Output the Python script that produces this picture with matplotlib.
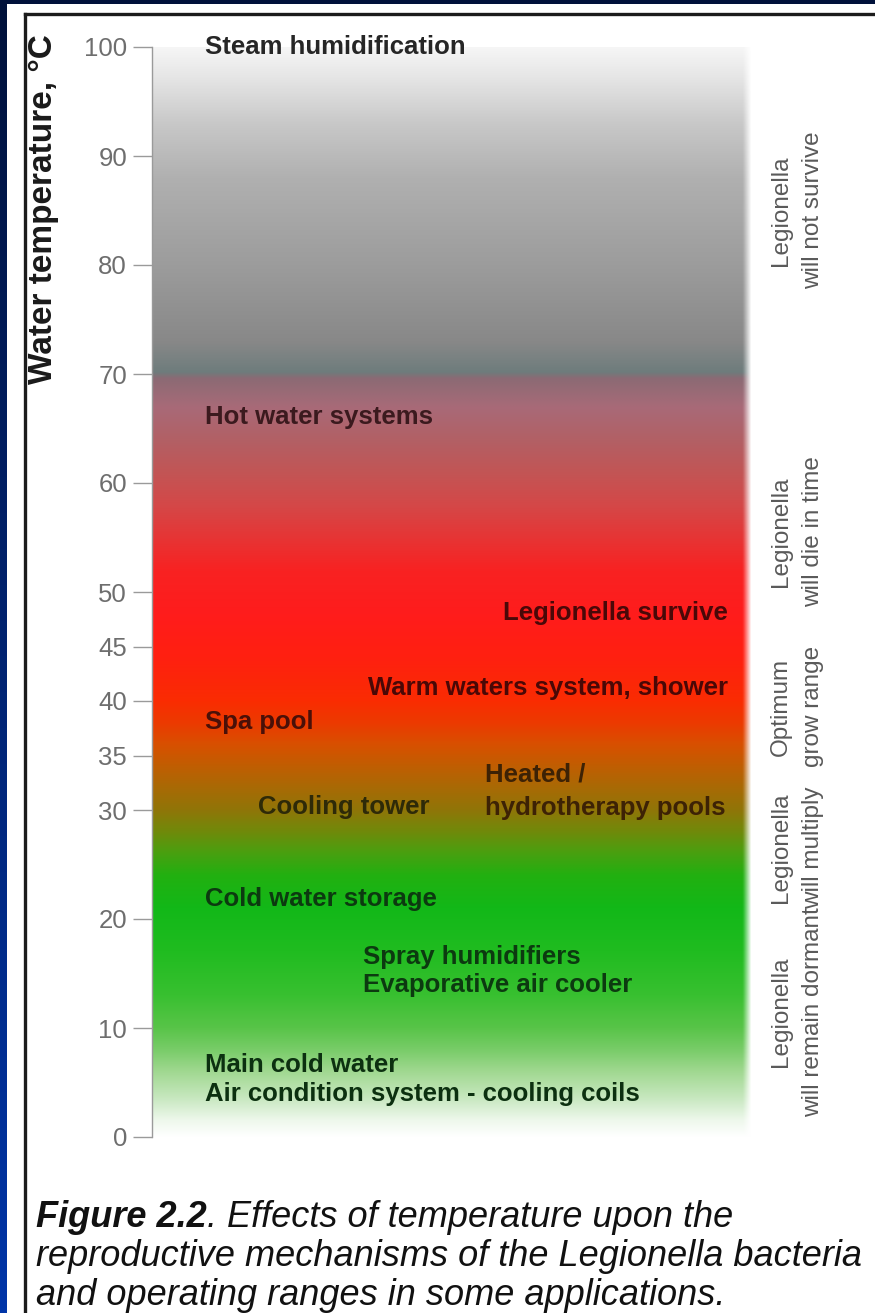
import numpy as np
import matplotlib
matplotlib.use("Agg")
import matplotlib.pyplot as plt
from matplotlib.colors import to_rgb
from matplotlib.patches import Rectangle
from matplotlib.lines import Line2D

# ---------------- data ----------------
temp_ticks = [0, 10, 20, 30, 35, 40, 45, 50, 60, 70, 80, 90, 100]
axis_title = "Water temperature, °C"

applications = ["Steam humidification", "Hot water systems", "Legionella survive",
                "Warm waters system, shower", "Spa pool", "Heated /\nhydrotherapy pools",
                "Cooling tower", "Cold water storage",
                "Spray humidifiers\nEvaporative air cooler",
                "Main cold water\nAir condition system - cooling coils"]
application_temps = [100, 66.1, 48.1, 41.2, 38.1, 31.7, 30.3, 21.8, 15.2, 5.3]

zones = ["Legionella\nwill not survive", "Legionella\nwill die in time",
         "Optimum\ngrow range", "Legionella\nwill multiply",
         "Legionella\nwill remain dormant"]
zone_temps = [85.0, 55.5, 39.5, 26.5, 11.5]

caption_bold = "Figure 2.2"
caption_lines = [". Effects of temperature upon the",
                 "reproductive mechanisms of the Legionella bacteria",
                 "and operating ranges in some applications."]

# colour gradient of the column (temperature -> colour)
grad_temps = [0, 1.5, 3.5, 6, 8, 10, 13, 17, 21, 24, 26, 28, 30, 32, 34, 36, 38,
              40, 44, 48, 52, 55, 58, 61, 64, 67, 69.6, 70.2, 71.5, 73, 80, 88,
              93, 97, 100]
grad_colors = ["#ffffff", "#eef8ec", "#c8e8c0", "#a0d890", "#78cc68", "#58c448",
               "#38c030", "#20bc20", "#12b818", "#22b010", "#48a010", "#708a0a",
               "#907508", "#a86a05", "#c05e02", "#d85000", "#ec3a00", "#fa2c02",
               "#ff2010", "#ff1c1c", "#f82222", "#e63535", "#d44848", "#c25555",
               "#b26065", "#a86a78", "#8c6a74", "#6e7c7c", "#7a8282", "#888888",
               "#9c9c9c", "#b0b0b0", "#c8c8c8", "#e4e4e4", "#f6f6f6"]

# ---------------- styles / layout ----------------
W, H = 875, 1313
FONT = ["Liberation Sans", "DejaVu Sans"]
plt.rcParams["font.family"] = FONT

def fx(px):
    return px / W

def fy(py):
    return 1 - py / H

fig = plt.figure(figsize=(W / 100, H / 100), dpi=100)

# dark blue frame background
bg = fig.add_axes([0, 0, 1, 1], zorder=-10)
bg.set_axis_off()
top_c = np.array(to_rgb("#00113a"))
bot_c = np.array(to_rgb("#0035a8"))
tt = np.linspace(0, 1, 256)[:, None]
bg_img = (top_c[None, :] * (1 - tt) + bot_c[None, :] * tt)[:, None, :]
bg.imshow(bg_img, aspect="auto", extent=[0, 1, 0, 1], origin="upper")
bg.set_xlim(0, 1)
bg.set_ylim(0, 1)

# white panel with black border
fig.patches.append(Rectangle((fx(7), 0), 1 - fx(7), fy(3.5), transform=fig.transFigure,
                             facecolor="white", edgecolor="none", zorder=-5))
fig.lines.append(Line2D([fx(25), fx(25)], [fy(13.5), 0], transform=fig.transFigure,
                        color="#1c1c1c", lw=2.4, zorder=-4))
fig.lines.append(Line2D([fx(25), 1], [fy(13.5), fy(13.5)], transform=fig.transFigure,
                        color="#1c1c1c", lw=2.4, zorder=-4))

# main axes
x0, x1 = 152, 752
y100, y0 = 47, 1137
ax = fig.add_axes([fx(x0), fy(y0), fx(x1 - x0), (y0 - y100) / H])
ax.set_xlim(0, 1)
ax.set_ylim(0, 100)
ax.patch.set_alpha(0)

# gradient column
nT, nX = 1200, 400
tv = np.linspace(0, 100, nT)
rgb = np.array([to_rgb(c) for c in grad_colors])
img = np.zeros((nT, nX, 4))
for k in range(3):
    col = np.interp(tv, grad_temps, rgb[:, k])
    img[:, :, k] = col[:, None]
xs = np.linspace(0, 1, nX)
alpha = np.clip((1 - xs) / 0.014, 0, 1)
img[:, :, 3] = alpha[None, :]
ax.imshow(img, extent=[0, 1, 0, 100], origin="lower", aspect="auto",
          interpolation="bilinear", zorder=0)

for s in ["top", "right", "bottom"]:
    ax.spines[s].set_visible(False)
ax.spines["left"].set_color("#9a9a9a")
ax.spines["left"].set_linewidth(1.0)
ax.spines["left"].set_zorder(3)
ax.set_xticks([])
ax.set_yticks(temp_ticks)
ax.set_yticklabels([str(t) for t in temp_ticks])
ax.tick_params(axis="y", length=14, width=1.0, color="#9a9a9a", pad=4,
               labelsize=18.5, labelcolor="#6e6e6e")

# axis title
fig.text(fx(44), fy(209), axis_title, rotation=90, ha="center", va="center",
         fontsize=24, fontweight="bold", color="#1a1a1a")

# application labels
app_x = [0.088, 0.088, 0.96, 0.96, 0.088, 0.555, 0.177, 0.088, 0.352, 0.088]
app_ha = ["left", "left", "right", "right", "left", "left", "left", "left", "left", "left"]
app_col = ["#262626", "#3b1a1e", "#4a0808", "#4a0806", "#4a1008", "#3d2205",
           "#2e2a08", "#0c3a10", "#0c3a10", "#0c3010"]
app_ls = [1.0, 1.0, 1.0, 1.0, 1.0, 1.5, 1.0, 1.0, 1.22, 1.25]
ytr = ax.get_yaxis_transform()
for lab, t, x, ha, c, ls in zip(applications, application_temps, app_x, app_ha, app_col, app_ls):
    ax.text(x, t, lab, transform=ytr, ha=ha, va="center", fontsize=18.5,
            fontweight="bold", color=c, linespacing=ls, zorder=5, clip_on=False)

# zone labels on the right
for lab, t in zip(zones, zone_temps):
    ax.text(1.075, t, lab, transform=ytr, rotation=90, ha="center", va="center",
            multialignment="center", fontsize=17.5, color="#5a5a5a",
            linespacing=1.6, clip_on=False)

# caption
cap_x = fx(36)
base = [1227, 1266, 1305]
CAP_FS = 26
t0 = fig.text(cap_x, fy(base[0]), caption_bold, ha="left", va="baseline",
              fontsize=CAP_FS, fontweight="bold", style="italic", color="#111111")
fig.canvas.draw()
bb = t0.get_window_extent(renderer=fig.canvas.get_renderer())
fig.text(bb.x1 / W, fy(base[0]), caption_lines[0], ha="left", va="baseline",
         fontsize=CAP_FS, style="italic", color="#111111")
for line, b in zip(caption_lines[1:], base[1:]):
    fig.text(cap_x, fy(b), line, ha="left", va="baseline", fontsize=CAP_FS,
             style="italic", color="#111111")

fig.savefig("out.png", dpi=100)
